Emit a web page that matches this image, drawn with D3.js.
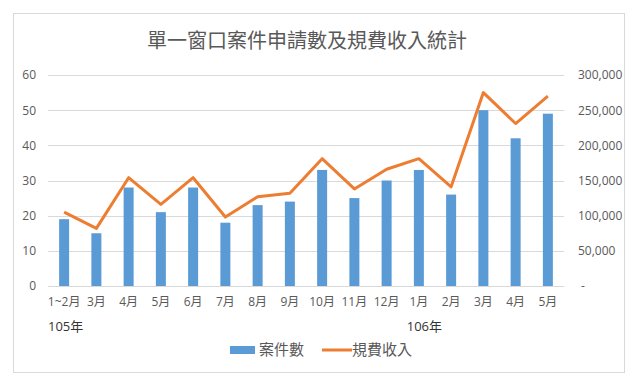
<!DOCTYPE html>
<html>
<head>
<meta charset="utf-8">
<script src="https://cdn.jsdelivr.net/npm/d3@7"></script>
<style>
  body { margin: 0; background: #fff; }
  svg { display: block; font-family: "Open Sans", "Noto Sans CJK TC", sans-serif; }
</style>
</head>
<body>
<div id="chart"></div>
<script>
// 資料
var months = ["1~2月", "3月", "4月", "5月", "6月", "7月", "8月", "9月", "10月", "11月", "12月", "1月", "2月", "3月", "4月", "5月"];
var cases = [19, 15, 28, 21, 28, 18, 23, 24, 33, 25, 30, 33, 26, 50, 42, 49];
var fees = [105000, 82000, 154000, 116000, 154000, 98000, 127000, 132000, 181000, 138000, 166000, 181000, 141000, 275000, 231000, 270000];
var years = [{label: "105年", at: "1~2月"}, {label: "106年", at: "1月"}];
var leftTicks = [0, 10, 20, 30, 40, 50, 60];
var rightTicks = [0, 50000, 100000, 150000, 200000, 250000, 300000];

var width = 640, height = 385;
var plot = {left: 48, right: 564, top: 75, bottom: 286};
var textColor = "#595959";

var svg = d3.select("#chart").append("svg")
    .attr("width", width)
    .attr("height", height);

// 外框
svg.append("rect")
    .attr("x", 13.5).attr("y", 13.5)
    .attr("width", 611).attr("height", 359)
    .attr("fill", "#fff")
    .attr("stroke", "#d9d9d9");

svg.append("text")
    .attr("x", 307).attr("y", 48)
    .attr("text-anchor", "middle")
    .attr("font-size", 20)
    .attr("fill", textColor)
    .text("單一窗口案件申請數及規費收入統計");

var idx = months.map((d, i) => i);
var x = d3.scaleBand()
    .domain(idx)
    .range([plot.left, plot.right]);

var yL = d3.scaleLinear().domain([0, 60]).range([plot.bottom, plot.top]);
var yR = d3.scaleLinear().domain([0, 300000]).range([plot.bottom, plot.top]);

// 格線
svg.append("g").selectAll("line")
    .data(leftTicks)
    .enter().append("line")
    .attr("x1", plot.left).attr("x2", plot.right)
    .attr("y1", d => Math.round(yL(d)) + 0.5)
    .attr("y2", d => Math.round(yL(d)) + 0.5)
    .attr("stroke", "#d9d9d9");

// 左軸
var axisL = svg.append("g")
    .attr("transform", "translate(36,0)")
    .call(d3.axisLeft(yL).tickValues(leftTicks).tickSize(0).tickPadding(0));
axisL.select(".domain").remove();
axisL.selectAll("text").attr("font-size", 12).attr("fill", textColor);
axisL.attr("font-family", null);

// 右軸
var axisR = svg.append("g")
    .attr("transform", "translate(578,0)")
    .call(d3.axisRight(yR).tickValues(rightTicks).tickSize(0).tickPadding(0)
        .tickFormat(d => d === 0 ? "-" : d3.format(",")(d)));
axisR.select(".domain").remove();
axisR.selectAll("text").attr("font-size", 12).attr("fill", textColor);
axisR.attr("font-family", null);
axisR.selectAll("text").filter(d => d === 0).attr("dx", 3);

// 長條
var barW = 10;
svg.append("g").selectAll("rect")
    .data(cases)
    .enter().append("rect")
    .attr("x", (d, i) => x(i) + x.bandwidth() / 2 - barW / 2)
    .attr("y", d => yL(d))
    .attr("width", barW)
    .attr("height", d => plot.bottom - yL(d))
    .attr("fill", "#5b9bd5");

// 折線
var line = d3.line()
    .x((d, i) => x(i) + x.bandwidth() / 2)
    .y(d => yR(d));
svg.append("path")
    .datum(fees)
    .attr("d", line)
    .attr("fill", "none")
    .attr("stroke", "#ed7d31")
    .attr("stroke-width", 3)
    .attr("stroke-linejoin", "round");

// X 軸標籤
svg.append("g").selectAll("text")
    .data(months)
    .enter().append("text")
    .attr("x", (d, i) => x(i) + x.bandwidth() / 2)
    .attr("y", 306)
    .attr("text-anchor", "middle")
    .attr("font-size", 12)
    .attr("fill", textColor)
    .text(d => d);

svg.append("g").selectAll("text")
    .data(years)
    .enter().append("text")
    .attr("x", d => x(months.indexOf(d.at)) + (d.at === "1月" ? 4 : 0))
    .attr("y", 331)
    .attr("font-size", 13)
    .attr("fill", "#333")
    .text(d => d.label);

// 圖例
var lg = svg.append("g");
lg.append("rect")
    .attr("x", 230).attr("y", 346)
    .attr("width", 25).attr("height", 8)
    .attr("fill", "#5b9bd5");
lg.append("text")
    .attr("x", 259).attr("y", 355)
    .attr("font-size", 15)
    .attr("fill", textColor)
    .text("案件數");
lg.append("line")
    .attr("x1", 322).attr("x2", 352)
    .attr("y1", 350).attr("y2", 350)
    .attr("stroke", "#ed7d31")
    .attr("stroke-width", 3);
lg.append("text")
    .attr("x", 352).attr("y", 355)
    .attr("font-size", 15)
    .attr("fill", textColor)
    .text("規費收入");
</script>
</body>
</html>
